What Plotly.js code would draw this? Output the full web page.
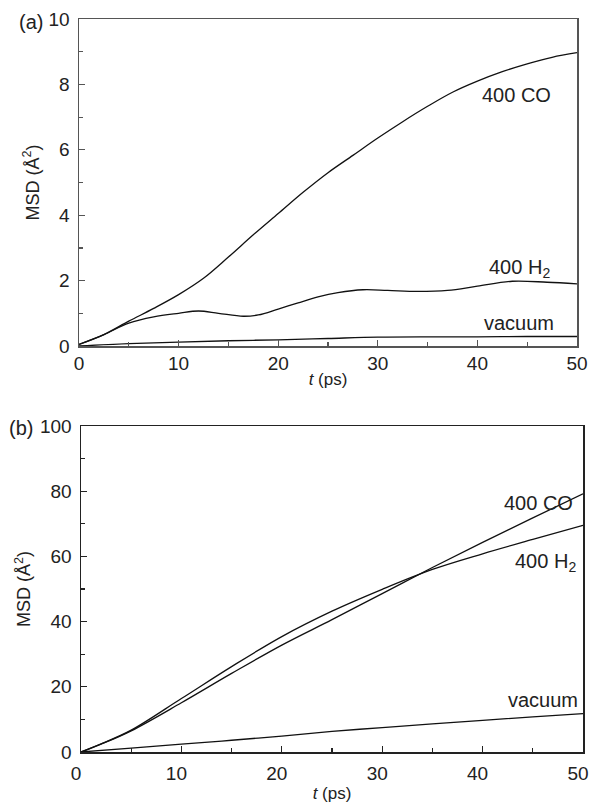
<!DOCTYPE html>
<html>
<head>
<meta charset="utf-8">
<script src="https://cdn.plot.ly/plotly-3.0.1.min.js"></script>
<style>html,body{margin:0;padding:0;background:#fff;}#chart{width:589px;height:805px;}</style>
</head>
<body>
<div id="chart"></div>
<script>
// Panel (a): MSD (Å^2) vs t (ps)
const tA_CO   = [0, 2.5, 5, 7.5, 10, 12.5, 15, 17.5, 20, 22.5, 25, 27.5, 30, 32.5, 35, 37.5, 40, 42.5, 45, 47.5, 50];
const msdA_CO = [0.05, 0.35, 0.76, 1.15, 1.57, 2.07, 2.72, 3.40, 4.05, 4.70, 5.30, 5.83, 6.36, 6.86, 7.33, 7.76, 8.10, 8.39, 8.63, 8.83, 8.97];
const tA_H2   = [0, 2.5, 5, 7.5, 10, 12, 14, 16.5, 18, 20, 22, 24, 26, 28.5, 31, 34, 37, 40, 43.5, 47, 50];
const msdA_H2 = [0.05, 0.35, 0.70, 0.89, 1.0, 1.07, 1.0, 0.91, 0.95, 1.13, 1.32, 1.50, 1.63, 1.72, 1.70, 1.67, 1.70, 1.83, 1.98, 1.95, 1.90];
const tA_vac   = [0, 5, 10, 15, 20, 25, 30, 35, 40, 45, 50];
const msdA_vac = [0.0, 0.07, 0.12, 0.16, 0.19, 0.23, 0.27, 0.28, 0.28, 0.29, 0.29];

// Panel (b)
const tB_CO   = [0, 2, 5, 10, 15, 20, 25, 30, 35, 40, 45, 50];
const msdB_CO = [0, 2.4, 6.5, 15.1, 24.1, 32.8, 40.6, 48.6, 56.6, 64.3, 71.8, 79.2];
const tB_H2   = [0, 2, 5, 10, 15, 20, 25, 30, 35, 40, 45, 50];
const msdB_H2 = [0, 2.5, 6.7, 16.4, 26.2, 35.4, 43.2, 49.9, 56.0, 60.8, 65.2, 69.5];
const tB_vac   = [0, 5, 10, 15, 20, 25, 30, 35, 40, 45, 50];
const msdB_vac = [0, 1.2, 2.4, 3.6, 4.9, 6.3, 7.5, 8.6, 9.7, 10.8, 11.8];

const xTitle = '<i>t</i> (ps)';
const yTitle = 'MSD (Å<sup>2</sup>)';

const FONT = 'Liberation Sans, Arial, Helvetica, sans-serif';
const lineStyle = {color: '#111', width: 1.3, shape: 'spline', smoothing: 1};

function tr(x, y, xa, ya) {
  return {x: x, y: y, xaxis: xa, yaxis: ya, mode: 'lines', line: lineStyle, hoverinfo: 'skip', showlegend: false};
}

const data = [
  tr(tA_CO, msdA_CO, 'x', 'y'),
  tr(tA_H2, msdA_H2, 'x', 'y'),
  tr(tA_vac, msdA_vac, 'x', 'y'),
  tr(tB_CO, msdB_CO, 'x2', 'y2'),
  tr(tB_H2, msdB_H2, 'x2', 'y2'),
  tr(tB_vac, msdB_vac, 'x2', 'y2')
];

function xax(domain, lc, tls, tst, shift) {
  return {
    domain: domain, range: [0, 50], dtick: 10, tick0: 0,
    showline: true, mirror: true, linecolor: lc, linewidth: 1.5,
    ticks: 'inside', ticklen: 6, tickwidth: 1.2, tickcolor: lc,
    minor: {dtick: 5, ticks: 'inside', ticklen: 4, tickwidth: 1.2, tickcolor: lc},
    showgrid: false, zeroline: false,
    tickfont: {family: FONT, size: 19, color: '#222'},
    ticklabeloverflow: 'allow',
    ticklabelstandoff: tls,
    ticklabelshift: shift,
    title: {text: xTitle, font: {family: FONT, size: 17, color: '#222'}, standoff: tst},
    automargin: false
  };
}
function yax(domain, lc, top, dt) {
  return {
    domain: domain, range: [0, top], dtick: dt, tick0: 0,
    showline: true, mirror: true, linecolor: lc, linewidth: 1.5,
    ticks: 'inside', ticklen: 6, tickwidth: 1.2, tickcolor: lc,
    minor: {dtick: dt / 2, ticks: 'inside', ticklen: 4, tickwidth: 1.2, tickcolor: lc},
    showgrid: false, zeroline: false,
    tickfont: {family: FONT, size: 19, color: '#222'},
    ticklabeloverflow: 'allow',
    ticklabelstandoff: 4,
    title: {text: yTitle, font: {family: FONT, size: 18, color: '#222'}, standoff: 4},
    automargin: false
  };
}

const W = 589, H = 805;
const AF = {family: FONT, size: 20, color: '#222'};
const layout = {
  width: W, height: H,
  margin: {l: 0, r: 0, t: 0, b: 0},
  paper_bgcolor: '#fff', plot_bgcolor: '#fff',
  font: {family: FONT, color: '#222'},
  xaxis: Object.assign(xax([79 / W, 577 / W], '#555', 0, 0, 0), {anchor: 'y'}),
  yaxis: Object.assign(yax([1 - 346 / H, 1 - 19 / H], '#555', 10, 2), {anchor: 'x'}),
  xaxis2: Object.assign(xax([81 / W, 583 / W], '#222', 4, 4, -5), {anchor: 'y2'}),
  yaxis2: Object.assign(yax([1 - 752 / H, 1 - 426 / H], '#222', 100, 20), {anchor: 'x2'}),
  annotations: [
    {xref: 'paper', yref: 'paper', x: 30.5 / W, y: 1 - 22 / H, text: '(a)', showarrow: false, xanchor: 'center', yanchor: 'middle', font: AF},
    {xref: 'paper', yref: 'paper', x: 21 / W, y: 1 - 428 / H, text: '(b)', showarrow: false, xanchor: 'center', yanchor: 'middle', font: AF},
    {xref: 'x', yref: 'y', x: 43.9, y: 7.68, text: '400 CO', showarrow: false, xanchor: 'center', yanchor: 'middle', font: AF},
    {xref: 'x', yref: 'y', x: 44.2, y: 2.38, text: '400 H<sub>2</sub>', showarrow: false, xanchor: 'center', yanchor: 'middle', font: AF},
    {xref: 'x', yref: 'y', x: 44.2, y: 0.71, text: 'vacuum', showarrow: false, xanchor: 'center', yanchor: 'middle', font: AF},
    {xref: 'x2', yref: 'y2', x: 45.6, y: 76.4, text: '400 CO', showarrow: false, xanchor: 'center', yanchor: 'middle', font: AF},
    {xref: 'x2', yref: 'y2', x: 46.3, y: 58.0, text: '400 H<sub>2</sub>', showarrow: false, xanchor: 'center', yanchor: 'middle', font: AF},
    {xref: 'x2', yref: 'y2', x: 46.0, y: 15.9, text: 'vacuum', showarrow: false, xanchor: 'center', yanchor: 'middle', font: AF}
  ]
};

Plotly.newPlot('chart', data, layout, {displayModeBar: false, staticPlot: true});
</script>
</body>
</html>
